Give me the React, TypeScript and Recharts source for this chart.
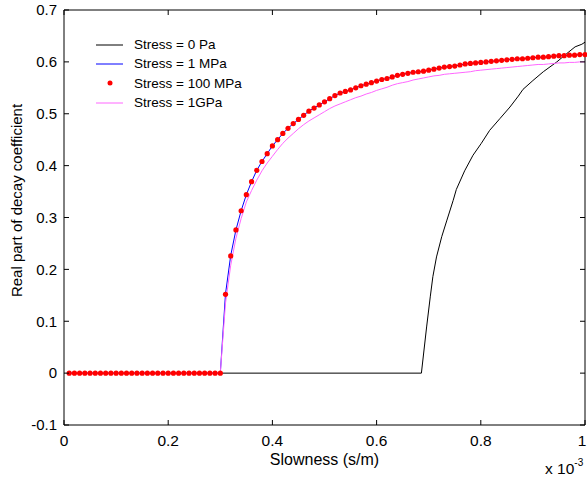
import { LineChart, Line, XAxis, YAxis, Legend } from "recharts";

// slowness in units of 1e-3 s/m
const slowness = [
  0.01, 0.02, 0.03, 0.04, 0.05, 0.06, 0.07, 0.08, 0.09, 0.1,
  0.11, 0.12, 0.13, 0.14, 0.15, 0.16, 0.17, 0.18, 0.19, 0.2,
  0.21, 0.22, 0.23, 0.24, 0.25, 0.26, 0.27, 0.28, 0.29, 0.3,
  0.31, 0.32, 0.33, 0.34, 0.35, 0.36, 0.37, 0.38, 0.39, 0.4,
  0.41, 0.42, 0.43, 0.44, 0.45, 0.46, 0.47, 0.48, 0.49, 0.5,
  0.51, 0.52, 0.53, 0.54, 0.55, 0.56, 0.57, 0.58, 0.59, 0.6,
  0.61, 0.62, 0.63, 0.64, 0.65, 0.66, 0.67, 0.68, 0.69, 0.7,
  0.71, 0.72, 0.73, 0.74, 0.75, 0.76, 0.77, 0.78, 0.79, 0.8,
  0.81, 0.82, 0.83, 0.84, 0.85, 0.86, 0.87, 0.88, 0.89, 0.9,
  0.91, 0.92, 0.93, 0.94, 0.95, 0.96, 0.97, 0.98, 0.99, 1.0,
];

const stress1MPa = [
  0, 0, 0, 0, 0, 0, 0, 0, 0, 0,
  0, 0, 0, 0, 0, 0, 0, 0, 0, 0,
  0, 0, 0, 0, 0, 0, 0, 0, 0, 0,
  0.153, 0.227, 0.276, 0.313, 0.344, 0.369, 0.391, 0.408, 0.423, 0.438,
  0.45, 0.462, 0.472, 0.481, 0.489, 0.497, 0.505, 0.511, 0.517, 0.523,
  0.529, 0.535, 0.54, 0.543, 0.546, 0.55, 0.554, 0.557, 0.56, 0.563,
  0.566, 0.568, 0.571, 0.574, 0.576, 0.578, 0.58, 0.581, 0.582, 0.584,
  0.586, 0.588, 0.59, 0.591, 0.592, 0.594, 0.596, 0.597, 0.598, 0.599,
  0.6, 0.601, 0.602, 0.603, 0.604, 0.605, 0.606, 0.606, 0.607, 0.608,
  0.609, 0.609, 0.61, 0.611, 0.612, 0.612, 0.613, 0.613, 0.614, 0.614,
];

const stress100MPa = [
  0, 0, 0, 0, 0, 0, 0, 0, 0, 0,
  0, 0, 0, 0, 0, 0, 0, 0, 0, 0,
  0, 0, 0, 0, 0, 0, 0, 0, 0, 0,
  0.152, 0.226, 0.276, 0.313, 0.344, 0.369, 0.391, 0.408, 0.423, 0.438,
  0.45, 0.462, 0.472, 0.481, 0.489, 0.497, 0.505, 0.511, 0.517, 0.523,
  0.529, 0.535, 0.54, 0.543, 0.546, 0.55, 0.554, 0.557, 0.56, 0.563,
  0.566, 0.568, 0.571, 0.574, 0.576, 0.578, 0.58, 0.581, 0.582, 0.584,
  0.586, 0.588, 0.59, 0.591, 0.592, 0.594, 0.596, 0.597, 0.598, 0.599,
  0.6, 0.601, 0.602, 0.603, 0.604, 0.605, 0.606, 0.606, 0.607, 0.608,
  0.609, 0.609, 0.61, 0.611, 0.612, 0.612, 0.613, 0.613, 0.614, 0.614,
];

const stress1GPa = [
  0, 0, 0, 0, 0, 0, 0, 0, 0, 0,
  0, 0, 0, 0, 0, 0, 0, 0, 0, 0,
  0, 0, 0, 0, 0, 0, 0, 0, 0, 0,
  0.135, 0.208, 0.26, 0.298, 0.33, 0.352, 0.372, 0.39, 0.405, 0.418,
  0.431, 0.443, 0.453, 0.462, 0.471, 0.479, 0.486, 0.492, 0.498, 0.504,
  0.51, 0.515, 0.519, 0.523, 0.527, 0.531, 0.534, 0.538, 0.541, 0.545,
  0.548, 0.551, 0.555, 0.558, 0.56, 0.562, 0.565, 0.567, 0.569, 0.571,
  0.573, 0.574, 0.576, 0.577, 0.578, 0.579, 0.58, 0.581, 0.583, 0.584,
  0.585, 0.586, 0.587, 0.588, 0.589, 0.59, 0.591, 0.592, 0.593, 0.594,
  0.595, 0.595, 0.596, 0.597, 0.598, 0.598, 0.599, 0.599, 0.6, 0.6,
];

// the 0 Pa curve, sampled where its kinks are
const zeroPaSlowness = [
  0.01, 0.686, 0.696, 0.703, 0.708, 0.715, 0.725, 0.735, 0.747, 0.753,
  0.769, 0.785, 0.801, 0.817, 0.837, 0.856, 0.872, 0.881, 0.9, 0.92,
  0.946, 0.965, 0.981, 0.994, 1.0,
];
const zeroPaValues = [
  0, 0, 0.089, 0.147, 0.186, 0.224, 0.263, 0.295, 0.333, 0.354,
  0.39, 0.42, 0.443, 0.468, 0.491, 0.513, 0.534, 0.547, 0.564, 0.581,
  0.6, 0.616, 0.629, 0.634, 0.638,
];

const xTicks = [0, 0.2, 0.4, 0.6, 0.8, 1];
const yTicks = [-0.1, 0, 0.1, 0.2, 0.3, 0.4, 0.5, 0.6, 0.7];

const legendItems = [
  { label: "Stress = 0 Pa", kind: "line", color: "#000000" },
  { label: "Stress = 1 MPa", kind: "line", color: "#0000ff" },
  { label: "Stress = 100 MPa", kind: "dot", color: "#ff0000" },
  { label: "Stress = 1GPa", kind: "line", color: "#ff66ff" },
];

const gridRows = slowness.map((x, i) => ({
  x,
  mpa1: stress1MPa[i],
  mpa100: stress100MPa[i],
  gpa1: stress1GPa[i],
}));
const zeroPaRows = zeroPaSlowness.map((x, i) => ({ x, pa0: zeroPaValues[i] }));

const FONT = '"Liberation Sans", Arial, Helvetica, sans-serif';
const fmt = (v: number) => String(Math.round(v * 10) / 10);

const BottomTick = ({ x, y, payload }: any) => (
  <g>
    <line x1={x} y1={y} x2={x} y2={y - 5} stroke="#000" />
    <text
      x={payload.value === 1 ? x - 3 : x}
      y={y + 10}
      dy="0.71em"
      textAnchor="middle"
      fontSize={15.5}
      fill="#000"
      fontFamily={FONT}
    >
      {fmt(payload.value)}
    </text>
  </g>
);
const LeftTick = ({ x, y, payload }: any) => (
  <g>
    <line x1={x} y1={y} x2={x + 5} y2={y} stroke="#000" />
    <text x={x - 7} y={y} dy="0.355em" textAnchor="end" fontSize={15} fill="#000" fontFamily={FONT}>
      {fmt(payload.value)}
    </text>
  </g>
);
// top / right box ticks point into the plot
const TopTick = ({ x, y }: any) => <line x1={x} y1={y} x2={x} y2={y + 5} stroke="#000" />;
const RightTick = ({ x, y }: any) => <line x1={x} y1={y} x2={x - 5} y2={y} stroke="#000" />;

const LegendBox = () => (
  <div style={{ fontFamily: FONT, fontSize: 13.5, color: "#000" }}>
    {legendItems.map((it) => (
      <div key={it.label} style={{ display: "flex", alignItems: "center", height: 19.3 }}>
        <svg width={38} height={10}>
          {it.kind === "line" ? (
            <line x1={0} y1={5} x2={27} y2={5} stroke={it.color} strokeWidth={1} />
          ) : (
            <circle cx={14} cy={5} r={2.5} fill={it.color} />
          )}
        </svg>
        <span>{it.label}</span>
      </div>
    ))}
  </div>
);

export default function App() {
  return (
    <div style={{ position: "absolute", left: 0, top: 0, width: 587, height: 477, background: "#fff" }}>
      <LineChart width={587} height={477} margin={{ top: 9, right: 1, bottom: 0, left: 0 }}>
        <XAxis
          dataKey="x"
          type="number"
          domain={[0, 1]}
          ticks={xTicks}
          interval={0}
          height={52}
          tickSize={0}
          tickMargin={0}
          tickLine={false}
          axisLine={{ stroke: "#000" }}
          tick={BottomTick}
          label={{
            value: "Slowness (s/m)",
            position: "insideBottom",
            offset: 12,
            style: { fontFamily: FONT, fontSize: 16, fill: "#000" },
          }}
        />
        <XAxis
          xAxisId="top"
          orientation="top"
          dataKey="x"
          type="number"
          domain={[0, 1]}
          ticks={xTicks}
          interval={0}
          height={1}
          tickSize={0}
          tickMargin={0}
          tickLine={false}
          axisLine={{ stroke: "#000" }}
          tick={TopTick}
        />
        <YAxis
          type="number"
          domain={[-0.1, 0.7]}
          ticks={yTicks}
          interval={0}
          width={64}
          tickSize={0}
          tickMargin={0}
          tickLine={false}
          axisLine={{ stroke: "#000" }}
          tick={LeftTick}
          label={{
            value: "Real part of decay coefficient",
            angle: -90,
            position: "insideLeft",
            offset: 17,
            dy: -17,
            style: { textAnchor: "middle", fontFamily: FONT, fontSize: 15, fill: "#000" },
          }}
        />
        <YAxis
          yAxisId="right"
          orientation="right"
          type="number"
          domain={[-0.1, 0.7]}
          ticks={yTicks}
          interval={0}
          width={1}
          tickSize={0}
          tickMargin={0}
          tickLine={false}
          axisLine={{ stroke: "#000" }}
          tick={RightTick}
        />
        <Legend
          layout="vertical"
          align="center"
          verticalAlign="middle"
          content={LegendBox}
          wrapperStyle={{ left: 96, top: 35, width: 200, height: 80 }}
        />
        {/* same domains as the main axes; binding a series here makes the box axes draw */}
        <Line
          xAxisId="top"
          yAxisId="right"
          data={zeroPaRows}
          dataKey="pa0"
          type="linear"
          stroke="#000000"
          strokeWidth={1}
          dot={false}
          activeDot={false}
          isAnimationActive={false}
        />
        <Line
          data={gridRows}
          dataKey="mpa1"
          type="linear"
          stroke="#0000ff"
          strokeWidth={1}
          dot={false}
          activeDot={false}
          isAnimationActive={false}
        />
        <Line
          data={gridRows}
          dataKey="mpa100"
          type="linear"
          stroke="none"
          dot={{ r: 2.6, fill: "#ff0000", stroke: "none" }}
          activeDot={false}
          isAnimationActive={false}
        />
        <Line
          data={gridRows}
          dataKey="gpa1"
          type="linear"
          stroke="#ff66ff"
          strokeWidth={1}
          dot={false}
          activeDot={false}
          isAnimationActive={false}
        />
      </LineChart>
      <div style={{ position: "absolute", left: 545, top: 459, fontFamily: FONT, fontSize: 15.5, color: "#000", whiteSpace: "nowrap" }}>
        x 10<sup style={{ fontSize: 10, position: "relative", top: -2 }}>-3</sup>
      </div>
    </div>
  );
}
